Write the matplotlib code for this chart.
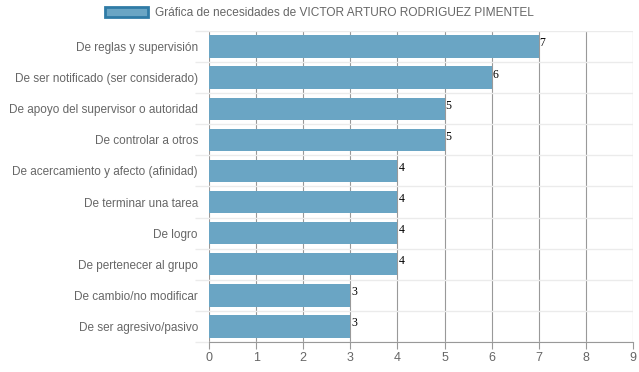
import matplotlib.pyplot as plt
import matplotlib.patches as mpatches
import numpy as np

categorias = ['De reglas y supervisión', 'De ser notificado (ser considerado)',
              'De apoyo del supervisor o autoridad', 'De controlar a otros',
              'De acercamiento y afecto (afinidad)', 'De terminar una tarea',
              'De logro', 'De pertenecer al grupo', 'De cambio/no modificar',
              'De ser agresivo/pasivo']
valores = [7, 6, 5, 5, 4, 4, 4, 4, 3, 3]
titulo = 'Gráfica de necesidades de VICTOR ARTURO RODRIGUEZ PIMENTEL'

plt.rcParams['font.family'] = ['Liberation Sans', 'DejaVu Sans']

fig = plt.figure(figsize=(6.39, 3.72), dpi=100)
ax = fig.add_axes([209 / 639, 1 - 342 / 372, 424 / 639, 311 / 372])

y = np.arange(len(categorias))
ax.barh(y, valores, height=0.72, color='#6aa5c4', zorder=2)
for yi, v in zip(y, valores):
    ax.text(v + 0.02, yi - 0.1, str(v), family='Liberation Serif', fontsize=8.5,
            color='black', va='center', ha='left', zorder=3)

ax.set_xlim(0, 9)
ax.set_ylim(len(categorias) - 0.5, -0.5)
ax.set_xticks(range(10))
ax.set_yticks(y)
ax.set_yticklabels(categorias)
ax.set_yticks(np.arange(-0.5, len(categorias), 1), minor=True)

ax.tick_params(axis='x', colors='#999999', labelcolor='#666666', labelsize=9, length=5, width=0.8, pad=2)
ax.tick_params(axis='y', which='major', length=0, labelcolor='#666666', labelsize=8.5, pad=8)
ax.tick_params(axis='y', which='minor', length=10, color='#ebebeb', width=1)

ax.grid(axis='x', color='#999999', linewidth=0.8, zorder=1)
ax.grid(axis='y', which='minor', color='#ebebeb', linewidth=1, zorder=1)
ax.grid(axis='y', which='major', visible=False)

for s in ['top', 'right', 'left']:
    ax.spines[s].set_visible(False)
ax.spines['bottom'].set_color('#999999')
ax.spines['bottom'].set_linewidth(0.8)

handle = mpatches.Patch(facecolor='#6aa5c4', edgecolor='#2f7ba6', linewidth=2, label=titulo)
fig.legend(handles=[handle], loc='upper center', bbox_to_anchor=(0.5, 1.01), frameon=False,
           fontsize=8.6, labelcolor='#666666', handlelength=3.6, handleheight=0.9, handletextpad=0.6)

fig.savefig('out.png', dpi=100)
